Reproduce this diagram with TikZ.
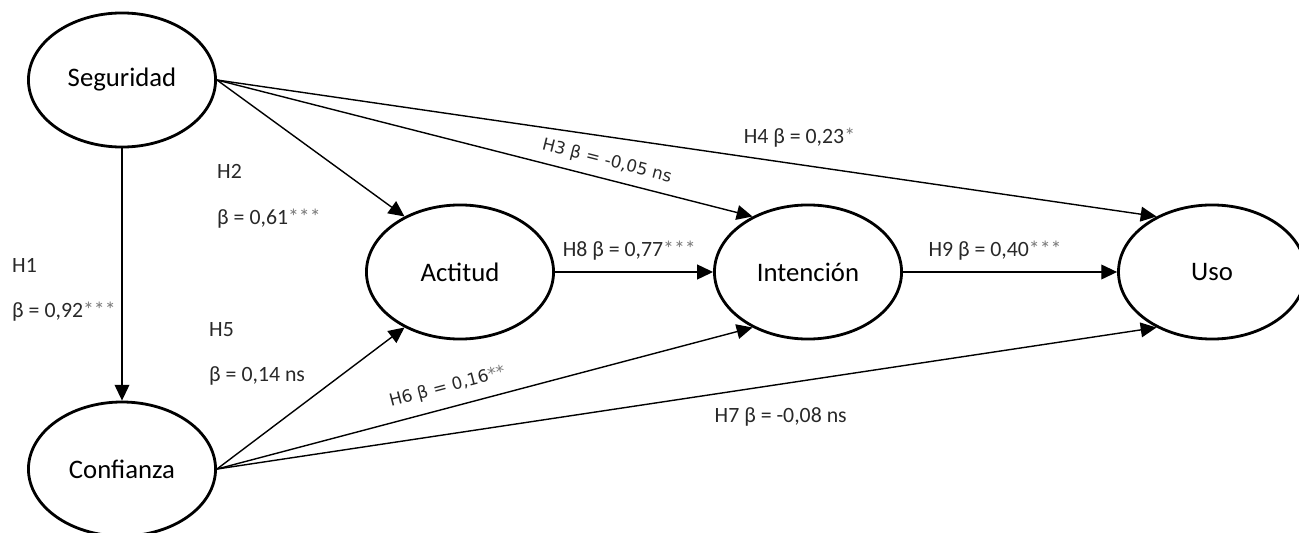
\documentclass[tikz,border=0pt]{standalone}
\usepackage{fontspec}
\setmainfont{Carlito}
\newfontfamily\dejavu{DejaVu Sans}
\usetikzlibrary{arrows.meta,shapes.geometric,positioning}
\definecolor{hgray}{RGB}{40,40,40}
\definecolor{stargray}{RGB}{120,120,120}
\newcommand{\stars}[1]{\textcolor{stargray}{#1}}
\tikzstyle{construct} = [ellipse, draw, line width=0.8pt, minimum width=1.87cm, minimum height=1.34cm, font=\fontsize{7.6}{9}\selectfont]
\tikzstyle{arrow} = [line width=0.4pt, -{Triangle[length=4.5pt,width=4.2pt]}]
\tikzstyle{hyp} = [inner sep=1pt, text=hgray, font=\fontsize{6.2}{7.4}\selectfont]
\tikzstyle{hypslope} = [inner sep=1pt, text=hgray, font=\dejavu\fontsize{4.8}{5.8}\selectfont]

\begin{document}
\begin{tikzpicture}[x=0.01cm, y=0.01cm]
\useasboundingbox (0,0) rectangle (1299,533);
\node (seg) [construct] at (122,453) {Seguridad};
\node (conf) [construct, below=2.52cm of seg] {Confianza};
\node (act) [construct] at (460,261) {Actitud};
\node (int) [construct, right=1.58cm of act] {Intención};
\node (uso) [construct, right=2.14cm of int] {Uso};
% paths from Seguridad
\draw[arrow] (seg.south) -- (conf.north);
\draw[arrow] (seg.east) -- (act.135);
\draw[arrow] (seg.east) -- node[hypslope, sloped, above=0.05cm, pos=0.72] {H3 β = -0,05 ns} (int.135);
\draw[arrow] (seg.east) -- node[hyp, above=0.13cm, pos=0.62] {H4 β = 0,23\stars{*}} (uso.135);
% paths from Confianza
\draw[arrow] (conf.east) -- (act.225);
\draw[arrow] (conf.east) -- node[hypslope, sloped, above=0.08cm, pos=0.44] {H6 β = 0,16\stars{**}} (int.225);
\draw[arrow] (conf.east) -- node[hyp, below=0.19cm, pos=0.6] {H7 β = -0,08 ns} (uso.225);
% mediation chain
\draw[arrow] (act.east) -- node[hyp, above=0.08cm, pos=0.47] {H8 β = 0,77\stars{***}} (int.west);
\draw[arrow] (int.east) -- node[hyp, above=0.08cm, pos=0.43] {H9 β = 0,40\stars{***}} (uso.west);
% side labels
\node (h1) [hyp, anchor=west, align=left] at (8,243) {H1\\[5.6pt]β = 0,92\stars{***}};
\node (h2) [hyp, anchor=west, align=left] at (213,337) {H2\\[5.6pt]β = 0,61\stars{***}};
\node (h5) [hyp, anchor=west, align=left] at (205,179) {H5\\[5.6pt]β = 0,14 ns};
\end{tikzpicture}
\end{document}
